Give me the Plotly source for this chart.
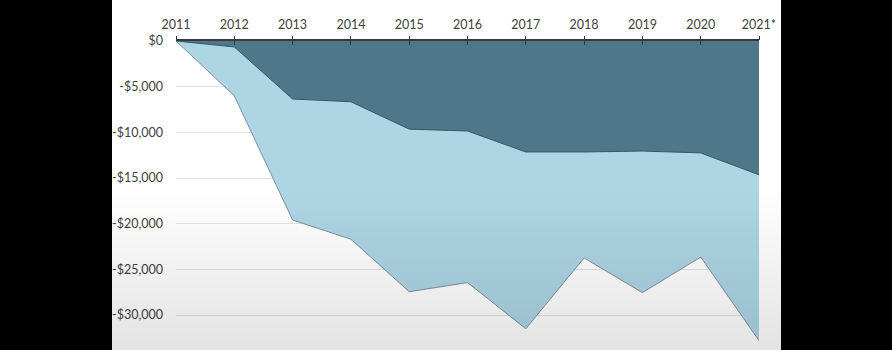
import base64
import plotly.graph_objects as go

# Cumulative amounts per year (two overlapping area series)
years = [2011, 2012, 2013, 2014, 2015, 2016, 2017, 2018, 2019, 2020, 2021]
year_labels = ["2011", "2012", "2013", "2014", "2015", "2016", "2017",
               "2018", "2019", "2020", "2021*"]
lower_series = [0, -6000, -19600, -21700, -27450, -26450, -31500,
                -23750, -27550, -23650, -32800]
upper_series = [0, -650, -6350, -6650, -9650, -9850, -12150,
                -12150, -12050, -12250, -14650]
y_ticks = [0, -5000, -10000, -15000, -20000, -25000, -30000]
y_tick_labels = ["$0", "-$5,000", "-$10,000", "-$15,000", "-$20,000",
                 "-$25,000", "-$30,000"]

W, H = 892, 350
PL, PR, PT, PB = 176, 759, 41, 350          # plot area in pixels
pw, ph = PR - PL, PB - PT


def px_x(p):
    return (p - PL) / pw


def px_y(p):
    return (PB - p) / ph


# soft grey shading toward the bottom of the white panel
svg = (
    '<svg xmlns="http://www.w3.org/2000/svg" width="100" height="100" '
    'preserveAspectRatio="none" viewBox="0 0 100 100">'
    '<defs><linearGradient id="g" x1="0" y1="0" x2="0" y2="1">'
    '<stop offset="0" stop-color="#000" stop-opacity="0"/>'
    '<stop offset="1" stop-color="#000" stop-opacity="0.11"/>'
    '</linearGradient></defs>'
    '<rect width="100" height="100" fill="url(#g)"/></svg>'
)
svg_uri = "data:image/svg+xml;base64," + base64.b64encode(svg.encode()).decode()

fig = go.Figure()
fig.add_trace(go.Scatter(
    x=years, y=lower_series, mode="lines", fill="tozeroy",
    fillcolor="#ADD5E4", line=dict(color="#7E929C", width=1),
    hoverinfo="skip", showlegend=False,
))
fig.add_trace(go.Scatter(
    x=years, y=upper_series, mode="lines", fill="tozeroy",
    fillcolor="#4E7889", line=dict(color="#36586A", width=1),
    hoverinfo="skip", showlegend=False,
))
# carrier trace for the outer half of the crossing tick marks
fig.add_trace(go.Scatter(
    x=[years[0]], y=[0], xaxis="x2", mode="lines",
    line=dict(width=0), hoverinfo="skip", showlegend=False,
))

font = dict(family="Lato, 'Open Sans', sans-serif", size=12.5, color="#404040")
axis_col = "#3a3a3a"

fig.update_layout(
    width=W, height=H,
    margin=dict(l=PL, r=W - PR, t=PT, b=H - PB),
    paper_bgcolor="black",
    plot_bgcolor="rgba(0,0,0,0)",
    font=font,
    xaxis=dict(
        range=[years[0], years[-1]], side="top",
        tickvals=years, ticktext=year_labels,
        showgrid=False, zeroline=False,
        showline=True, linecolor=axis_col, linewidth=1.5,
        ticks="inside", ticklen=4, tickwidth=1, tickcolor=axis_col,
        ticklabelstandoff=5,
    ),
    xaxis2=dict(
        range=[years[0], years[-1]], overlaying="x", side="top", anchor="y",
        tickvals=years, showticklabels=False, showgrid=False,
        zeroline=False, showline=False,
        ticks="outside", ticklen=4, tickwidth=1, tickcolor=axis_col,
    ),
    yaxis=dict(
        range=[-33830, 0],
        tickvals=y_ticks, ticktext=y_tick_labels,
        showgrid=True, gridcolor="#e3e3e3", gridwidth=1,
        zeroline=False, showline=False, ticks="",
        ticklabelstandoff=12,
    ),
    shapes=[dict(
        type="rect", xref="paper", yref="paper", layer="below",
        x0=px_x(112), x1=px_x(781), y0=px_y(H), y1=px_y(0),
        fillcolor="white", line=dict(width=0),
    )],
    images=[dict(
        source=svg_uri, xref="paper", yref="paper",
        x=px_x(112), y=px_y(190), sizex=px_x(781) - px_x(112),
        sizey=px_y(190) - px_y(H), xanchor="left", yanchor="top",
        sizing="stretch", layer="above",
    )],
)

fig.write_html("out.html")
